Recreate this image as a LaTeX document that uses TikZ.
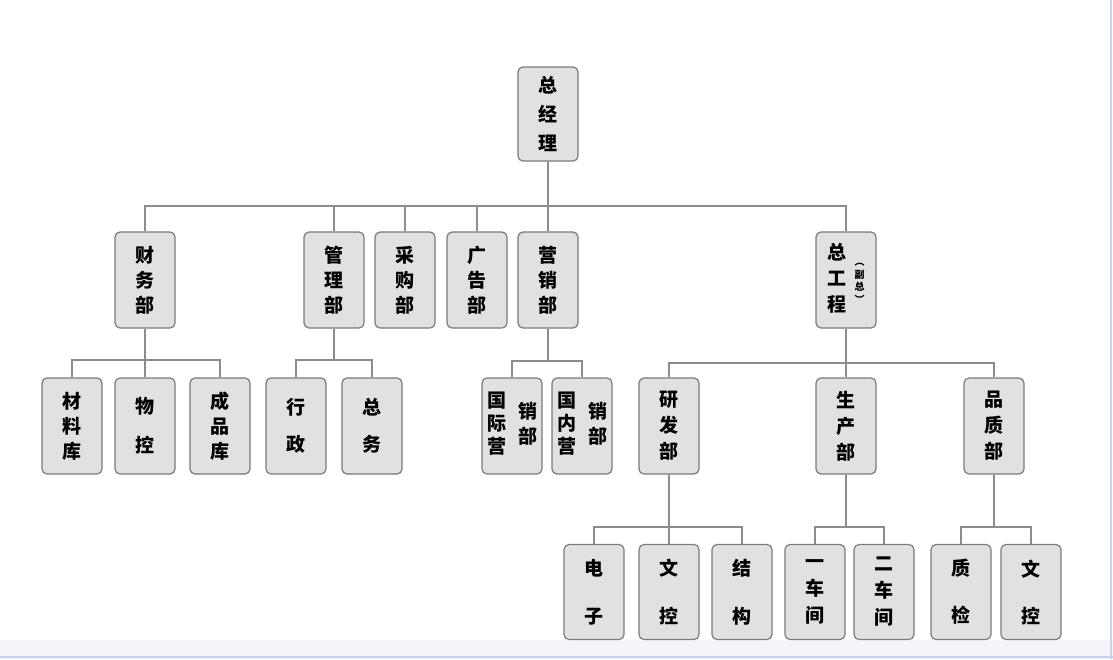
\documentclass[tikz,border=0pt]{standalone}
\usepackage{fontspec}
\newfontfamily\cjk{Noto Sans CJK SC}
\definecolor{boxfill}{HTML}{E1E1E1}
\definecolor{boxline}{HTML}{7A7A7A}
\definecolor{linkcol}{HTML}{8C8C8C}
\definecolor{bandcol}{HTML}{F3F5FB}
\definecolor{edgecol}{HTML}{C5D4EE}
\newcommand\vcolumn[3]{{\fontsize{#1}{#2}\selectfont\begin{tabular}[c]{@{}c@{}}#3\end{tabular}}}
\begin{document}
\begin{tikzpicture}[x=1pt,y=-1pt,
  box/.style={draw=boxline, fill=boxfill, rounded corners=5pt, line width=1.2pt,
    minimum width=60pt, minimum height=96pt, inner sep=0pt, align=center},
  sp/.style={font=\cjk\bfseries\fontsize{19}{#1}\selectfont},
  link/.style={draw=linkcol, line width=1.3pt}]
\useasboundingbox (0,0) rectangle (1113,659);
\fill[white] (0,0) rectangle (1113,659);
\fill[bandcol] (0,640) rectangle (1113,659);
\draw[edgecol, line width=2pt] (0,657) -- (1113,657);
\draw[edgecol, line width=2pt] (1110.5,0) -- (1110.5,659);

% level 1
\node[box, sp=29, minimum height=94pt] (zjl) at (548,114) {总\\经\\理};
% level 2
\node[box, sp=25] (cw) at (145,280) {财\\务\\部};
\node[box, sp=25] (gl) at (334,280) {管\\理\\部};
\node[box, sp=25] (cg) at (405,280) {采\\购\\部};
\node[box, sp=25] (gg) at (477,280) {广\\告\\部};
\node[box, sp=25] (yx) at (548,280) {营\\销\\部};
\node[box, sp=25] (zgc) at (846,280) {\begin{tabular}{@{}c@{\hspace{8pt}}c@{}}\vcolumn{19}{26}{总\\工\\程} & \vcolumn{10}{12.5}{︵\\副\\总\\︶}\end{tabular}};
% level 3
\node[box, sp=25] (cl) at (72,426) {材\\料\\库};
\node[box, sp=39] (wk) at (145,426) {物\\控};
\node[box, sp=25] (cp) at (220,426) {成\\品\\库};
\node[box, sp=37] (xz) at (296,426) {行\\政};
\node[box, sp=37] (zw) at (372,426) {总\\务};
\node[box, sp=25] (gj) at (512,426) {\begin{tabular}{@{}c@{\hspace{12pt}}c@{}}\vcolumn{19}{23}{国\\际\\营} & \vcolumn{19}{25}{销\\部}\end{tabular}};
\node[box, sp=25] (gn) at (582,426) {\begin{tabular}{@{}c@{\hspace{12pt}}c@{}}\vcolumn{19}{23}{国\\内\\营} & \vcolumn{19}{25}{销\\部}\end{tabular}};
\node[box, sp=26] (yf) at (669,426) {研\\发\\部};
\node[box, sp=26] (sc) at (846,426) {生\\产\\部};
\node[box, sp=26] (pz) at (994,426) {品\\质\\部};
% level 4
\node[box, sp=48, minimum height=95pt] (dz) at (594,592) {电\\子};
\node[box, sp=48, minimum height=95pt] (wka) at (669,592) {文\\控};
\node[box, sp=48, minimum height=95pt] (jg) at (742,592) {结\\构};
\node[box, sp=27, minimum height=95pt] (yc) at (815,592) {一\\车\\间};
\node[box, sp=27, minimum height=95pt] (ec) at (884,592) {二\\车\\间};
\node[box, sp=47, minimum height=95pt] (zj) at (961,592) {质\\检};
\node[box, sp=47, minimum height=95pt] (wkb) at (1031,592) {文\\控};

% buses
\coordinate (b1) at (548,206);
\coordinate (bcw) at (145,360);
\coordinate (bgl) at (334,360);
\coordinate (byx) at (548,361);
\coordinate (bzg) at (846,363);
\coordinate (byf) at (669,527);
\coordinate (bsc) at (846,527);
\coordinate (bpz) at (994,527);

\draw[link] (zjl.south) -- (b1);
\foreach \n in {cw,gl,cg,gg,yx,zgc} \draw[link] (\n.north) |- (b1);

\draw[link] (cw.south) -- (bcw);
\foreach \n in {cl,wk,cp} \draw[link] (\n.north) |- (bcw);
\draw[link] (gl.south) -- (bgl);
\foreach \n in {xz,zw} \draw[link] (\n.north) |- (bgl);
\draw[link] (yx.south) -- (byx);
\foreach \n in {gj,gn} \draw[link] (\n.north) |- (byx);
\draw[link] (zgc.south) -- (bzg);
\foreach \n in {yf,sc,pz} \draw[link] (\n.north) |- (bzg);

\draw[link] (yf.south) -- (byf);
\foreach \n in {dz,wka,jg} \draw[link] (\n.north) |- (byf);
\draw[link] (sc.south) -- (bsc);
\foreach \n in {yc,ec} \draw[link] (\n.north) |- (bsc);
\draw[link] (pz.south) -- (bpz);
\foreach \n in {zj,wkb} \draw[link] (\n.north) |- (bpz);
\end{tikzpicture}
\end{document}
